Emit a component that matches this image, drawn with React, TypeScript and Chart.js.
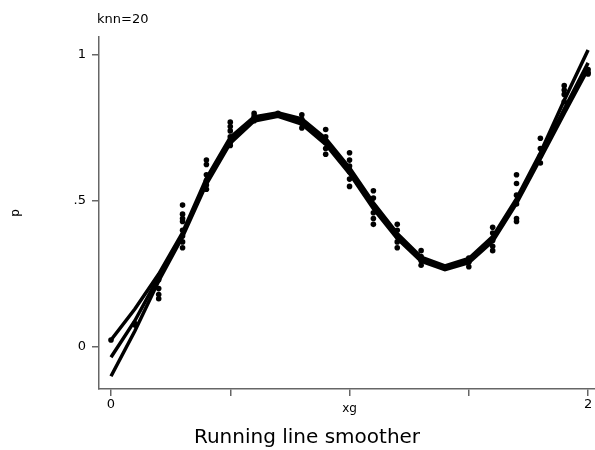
import React, { useEffect, useRef } from "react";
import { Chart, registerables } from "chart.js";

Chart.register(...registerables);

const xg = [0, 0.1, 0.2, 0.3, 0.4, 0.5, 0.6, 0.7, 0.8, 0.9, 1.0, 1.1, 1.2, 1.3, 1.4, 1.5, 1.6, 1.7, 1.8, 1.9, 2.0];

const pObs = [
  [0.024],
  [0.075, 0.08],
  [0.23, 0.2, 0.18, 0.165],
  [0.486, 0.455, 0.44, 0.43, 0.4, 0.38, 0.36, 0.34],
  [0.64, 0.625, 0.59, 0.57, 0.555, 0.54],
  [0.77, 0.755, 0.74, 0.72, 0.7, 0.69],
  [0.8, 0.79, 0.78, 0.775],
  [0.8, 0.797],
  [0.795, 0.78, 0.765, 0.75],
  [0.745, 0.72, 0.7, 0.68, 0.66],
  [0.665, 0.64, 0.62, 0.6, 0.575, 0.55],
  [0.535, 0.51, 0.485, 0.46, 0.44, 0.42],
  [0.42, 0.4, 0.38, 0.36, 0.34],
  [0.33, 0.31, 0.295, 0.28],
  [0.275, 0.27],
  [0.305, 0.29, 0.275],
  [0.41, 0.39, 0.365, 0.345, 0.33],
  [0.59, 0.56, 0.52, 0.49, 0.44, 0.43],
  [0.715, 0.68, 0.655, 0.63],
  [0.895, 0.88, 0.865, 0.84],
  [0.95, 0.94, 0.935],
];

const smooth1 = [0.024, 0.13, 0.25, 0.392, 0.578, 0.718, 0.788, 0.802, 0.781, 0.714, 0.614, 0.494, 0.389, 0.308, 0.278, 0.303, 0.378, 0.508, 0.665, 0.845, 1.017];
const smooth2 = [-0.035, 0.09, 0.24, 0.385, 0.568, 0.708, 0.781, 0.796, 0.772, 0.704, 0.604, 0.484, 0.38, 0.301, 0.271, 0.296, 0.37, 0.5, 0.655, 0.815, 0.973];
const smooth3 = [-0.1, 0.055, 0.226, 0.378, 0.558, 0.698, 0.774, 0.79, 0.763, 0.694, 0.594, 0.474, 0.371, 0.294, 0.265, 0.289, 0.362, 0.492, 0.645, 0.8, 0.952];

const yTicks = [0, 0.5, 1];
const yTickLabels = ["0", ".5", "1"];
const xTicks = [0, 0.5, 1, 1.5, 2];
const xTickLabels = ["0", "", "", "", "2"];

const topNote = "knn=20";
const xTitle = "xg";
const yTitle = "p";
const caption = "Running line smoother";

const FONT = "DejaVu Sans";

export default function App() {
  const ref = useRef<HTMLCanvasElement | null>(null);

  useEffect(() => {
    document.body.style.margin = "0";
    const canvas = ref.current;
    if (!canvas) return;

    const scatterPts: { x: number; y: number }[] = [];
    pObs.forEach((arr, i) => arr.forEach((v) => scatterPts.push({ x: xg[i], y: v })));
    const line = (arr: number[]) => arr.map((v, i) => ({ x: xg[i], y: v }));

    const textPlugin = {
      id: "texts",
      afterDraw(chart: any) {
        const ctx = chart.ctx;
        const area = chart.chartArea;
        ctx.save();
        ctx.fillStyle = "#000";
        ctx.textBaseline = "alphabetic";
        ctx.font = `13px ${FONT}`;
        ctx.textAlign = "left";
        ctx.fillText(topNote, 97, 23);
        ctx.font = `12px ${FONT}`;
        ctx.textAlign = "center";
        const xs = chart.scales.x;
        ctx.fillText(xTitle, xs.getPixelForValue(1), 412);
        ctx.save();
        ctx.translate(19, (area.top + area.bottom) / 2);
        ctx.rotate(-Math.PI / 2);
        ctx.fillText(yTitle, 0, 0);
        ctx.restore();
        ctx.font = `20px ${FONT}`;
        ctx.fillText(caption, 307, 443);
        ctx.restore();
      },
    };

    const lineDs = (arr: number[]) => ({
      type: "line",
      data: line(arr),
      borderColor: "#000",
      borderWidth: 3.5,
      pointRadius: 0,
      tension: 0,
    });

    const chart = new Chart(canvas, {
      type: "scatter",
      data: {
        datasets: [
          lineDs(smooth1),
          lineDs(smooth2),
          lineDs(smooth3),
          {
            data: scatterPts,
            backgroundColor: "#000",
            borderColor: "#000",
            pointRadius: 2.8,
            pointBorderWidth: 0,
          },
        ],
      },
      options: {
        animation: false,
        responsive: false,
        layout: { padding: { top: 37, right: 0, left: 0, bottom: 0 } },
        plugins: { legend: { display: false }, tooltip: { enabled: false } },
        scales: {
          x: {
            type: "linear",
            min: -0.0503,
            max: 2.029,
            afterBuildTicks: (s: any) => {
              s.ticks = xTicks.map((v) => ({ value: v }));
            },
            afterFit: (s: any) => {
              s.height = 61;
              s.paddingLeft = 0;
              s.paddingRight = 0;
            },
            ticks: {
              callback: (_v: any, i: number) => xTickLabels[i],
              font: { family: FONT, size: 13 },
              color: "#000",
              padding: 1,
              maxRotation: 0,
              autoSkip: false,
            },
            grid: { drawOnChartArea: false, drawTicks: true, tickLength: 7, color: "#666", lineWidth: 1.5 },
            border: { display: true, color: "#666", width: 1.5 },
          },
          y: {
            type: "linear",
            min: -0.1438,
            max: 1.0616,
            afterBuildTicks: (s: any) => {
              s.ticks = yTicks.map((v) => ({ value: v }));
            },
            afterFit: (s: any) => {
              s.width = 99;
              s.paddingTop = 0;
              s.paddingBottom = 0;
            },
            ticks: {
              callback: (_v: any, i: number) => yTickLabels[i],
              font: { family: FONT, size: 13 },
              color: "#000",
              padding: 6,
              autoSkip: false,
            },
            grid: { drawOnChartArea: false, drawTicks: true, tickLength: 7, color: "#666", lineWidth: 1.5 },
            border: { display: true, color: "#666", width: 1.5 },
          },
        },
      },
      plugins: [textPlugin],
    } as any);

    return () => chart.destroy();
  }, []);

  return (
    <div style={{ width: 595, height: 450, overflow: "hidden" }}>
      <canvas ref={ref} width={599} height={450} style={{ display: "block" }} />
    </div>
  );
}
